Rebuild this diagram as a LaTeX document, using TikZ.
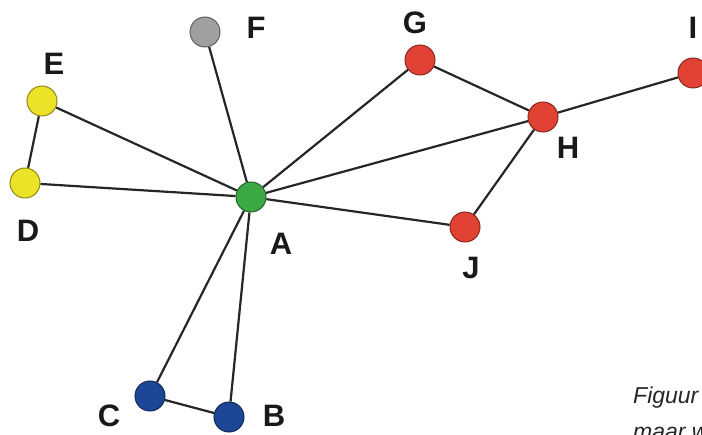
\documentclass[tikz,border=0pt]{standalone}
\usepackage{fontspec}
\setmainfont{Liberation Sans}
\usetikzlibrary{backgrounds}
\definecolor{cgreen}{RGB}{60,168,70}
\definecolor{cred}{RGB}{226,66,52}
\definecolor{cyellow}{RGB}{236,226,40}
\definecolor{cblue}{RGB}{30,70,150}
\definecolor{cgray}{RGB}{160,160,160}
\begin{document}
\begin{tikzpicture}[x=1pt,y=-1pt,
  vert/.style={circle,line width=1pt,minimum size=30pt,inner sep=0pt},
  lab/.style={font=\bfseries\fontsize{31}{31}\selectfont,inner sep=0pt,text=black!90},
  edge/.style={draw=black!85,line width=2.2pt},
  captext/.style={font=\itshape\fontsize{23}{23}\selectfont,inner sep=0pt,anchor=base west,text=black!85}]
\useasboundingbox (0,0) rectangle (702,435);
\node[vert,fill=cgreen,draw=cgreen!60!black]   (A) at (251,197) {};
\node[vert,fill=cblue,draw=cblue!60!black]     (B) at (229,417) {};
\node[vert,fill=cblue,draw=cblue!60!black]     (C) at (150,396) {};
\node[vert,fill=cyellow,draw=cyellow!60!black] (D) at (25,183) {};
\node[vert,fill=cyellow,draw=cyellow!60!black] (E) at (42,101) {};
\node[vert,fill=cgray,draw=cgray!60!black]     (F) at (205,32) {};
\node[vert,fill=cred,draw=cred!60!black]       (G) at (420,60) {};
\node[vert,fill=cred,draw=cred!60!black]       (H) at (543,117) {};
\node[vert,fill=cred,draw=cred!60!black]       (I) at (693,73) {};
\node[vert,fill=cred,draw=cred!60!black]       (J) at (465,227) {};
\begin{pgfonlayer}{background}
\draw[edge] (E) -- (D);
\draw[edge] (E) -- (A);
\draw[edge] (D) -- (A);
\draw[edge] (F) -- (A);
\draw[edge] (G) -- (A);
\draw[edge] (G) -- (H);
\draw[edge] (H) -- (A);
\draw[edge] (H) -- (I);
\draw[edge] (H) -- (J);
\draw[edge] (J) -- (A);
\draw[edge] (A) -- (C);
\draw[edge] (A) -- (B);
\draw[edge] (C) -- (B);
\end{pgfonlayer}
\node[lab] (lE) at (54,64) {E};
\node[lab] (lD) at (28,231) {D};
\node[lab] (lF) at (256,28) {F};
\node[lab] (lG) at (415,23) {G};
\node[lab] (lI) at (693,28) {I};
\node[lab] (lH) at (568,148) {H};
\node[lab] (lA) at (281,244) {A};
\node[lab] (lJ) at (471,268) {J};
\node[lab] (lC) at (109,416) {C};
\node[lab] (lB) at (274,416) {B};
\node[captext] (cap1) at (633,404) {Figuur};
\node[captext] (cap2) at (633,440) {maar w};
\end{tikzpicture}
\end{document}
